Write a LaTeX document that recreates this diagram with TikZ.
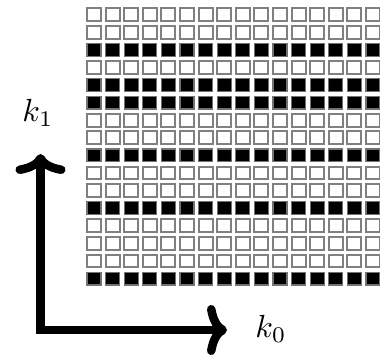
\documentclass[tikz,border=0pt]{standalone}
\usetikzlibrary{arrows.meta}
\tikzset{
  cellw/.style={draw=black!50, line width=2pt, fill=white},
  cellb/.style={draw=black!55, line width=1.2pt, fill=black},
  axis/.style={line width=8.5pt, line join=miter,
    {Computer Modern Rightarrow[length=20pt,width=50pt]}-{Computer Modern Rightarrow[length=20pt,width=50pt]}},
  lab/.style={inner sep=0pt}
}
\begin{document}
\begin{tikzpicture}[x=1pt,y=1pt]
\clip (0,0) rectangle (380,356);
\fill[white] (0,0) rectangle (380,356);
\foreach \j/\t in {0/0,1/0,2/1,3/0,4/1,5/1,6/0,7/0,8/1,9/0,10/0,11/1,12/0,13/0,14/0,15/1}{
  \foreach \i in {0,...,15}{
    \pgfmathsetmacro{\xl}{86+18.6*\i+1}
    \pgfmathsetmacro{\yt}{356-7.3-17.6*\j-1}
    \ifnum\t=1
      \draw[cellb] (\xl,\yt) rectangle ++(14,-12.7);
    \else
      \draw[cellw] (\xl,\yt) rectangle ++(14,-12.7);
    \fi
  }
}
\coordinate (top) at (40.5,202);
\coordinate (corner) at (40.5,26);
\coordinate (right) at (227,26);
\draw[axis] (top) -- (corner) -- (right);
\node[lab] (k1) at (38,243) {\scalebox{3.2}{$k_1$}};
\node[lab] (k0) at (271,27) {\scalebox{3.2}{$k_0$}};
\end{tikzpicture}
\end{document}
